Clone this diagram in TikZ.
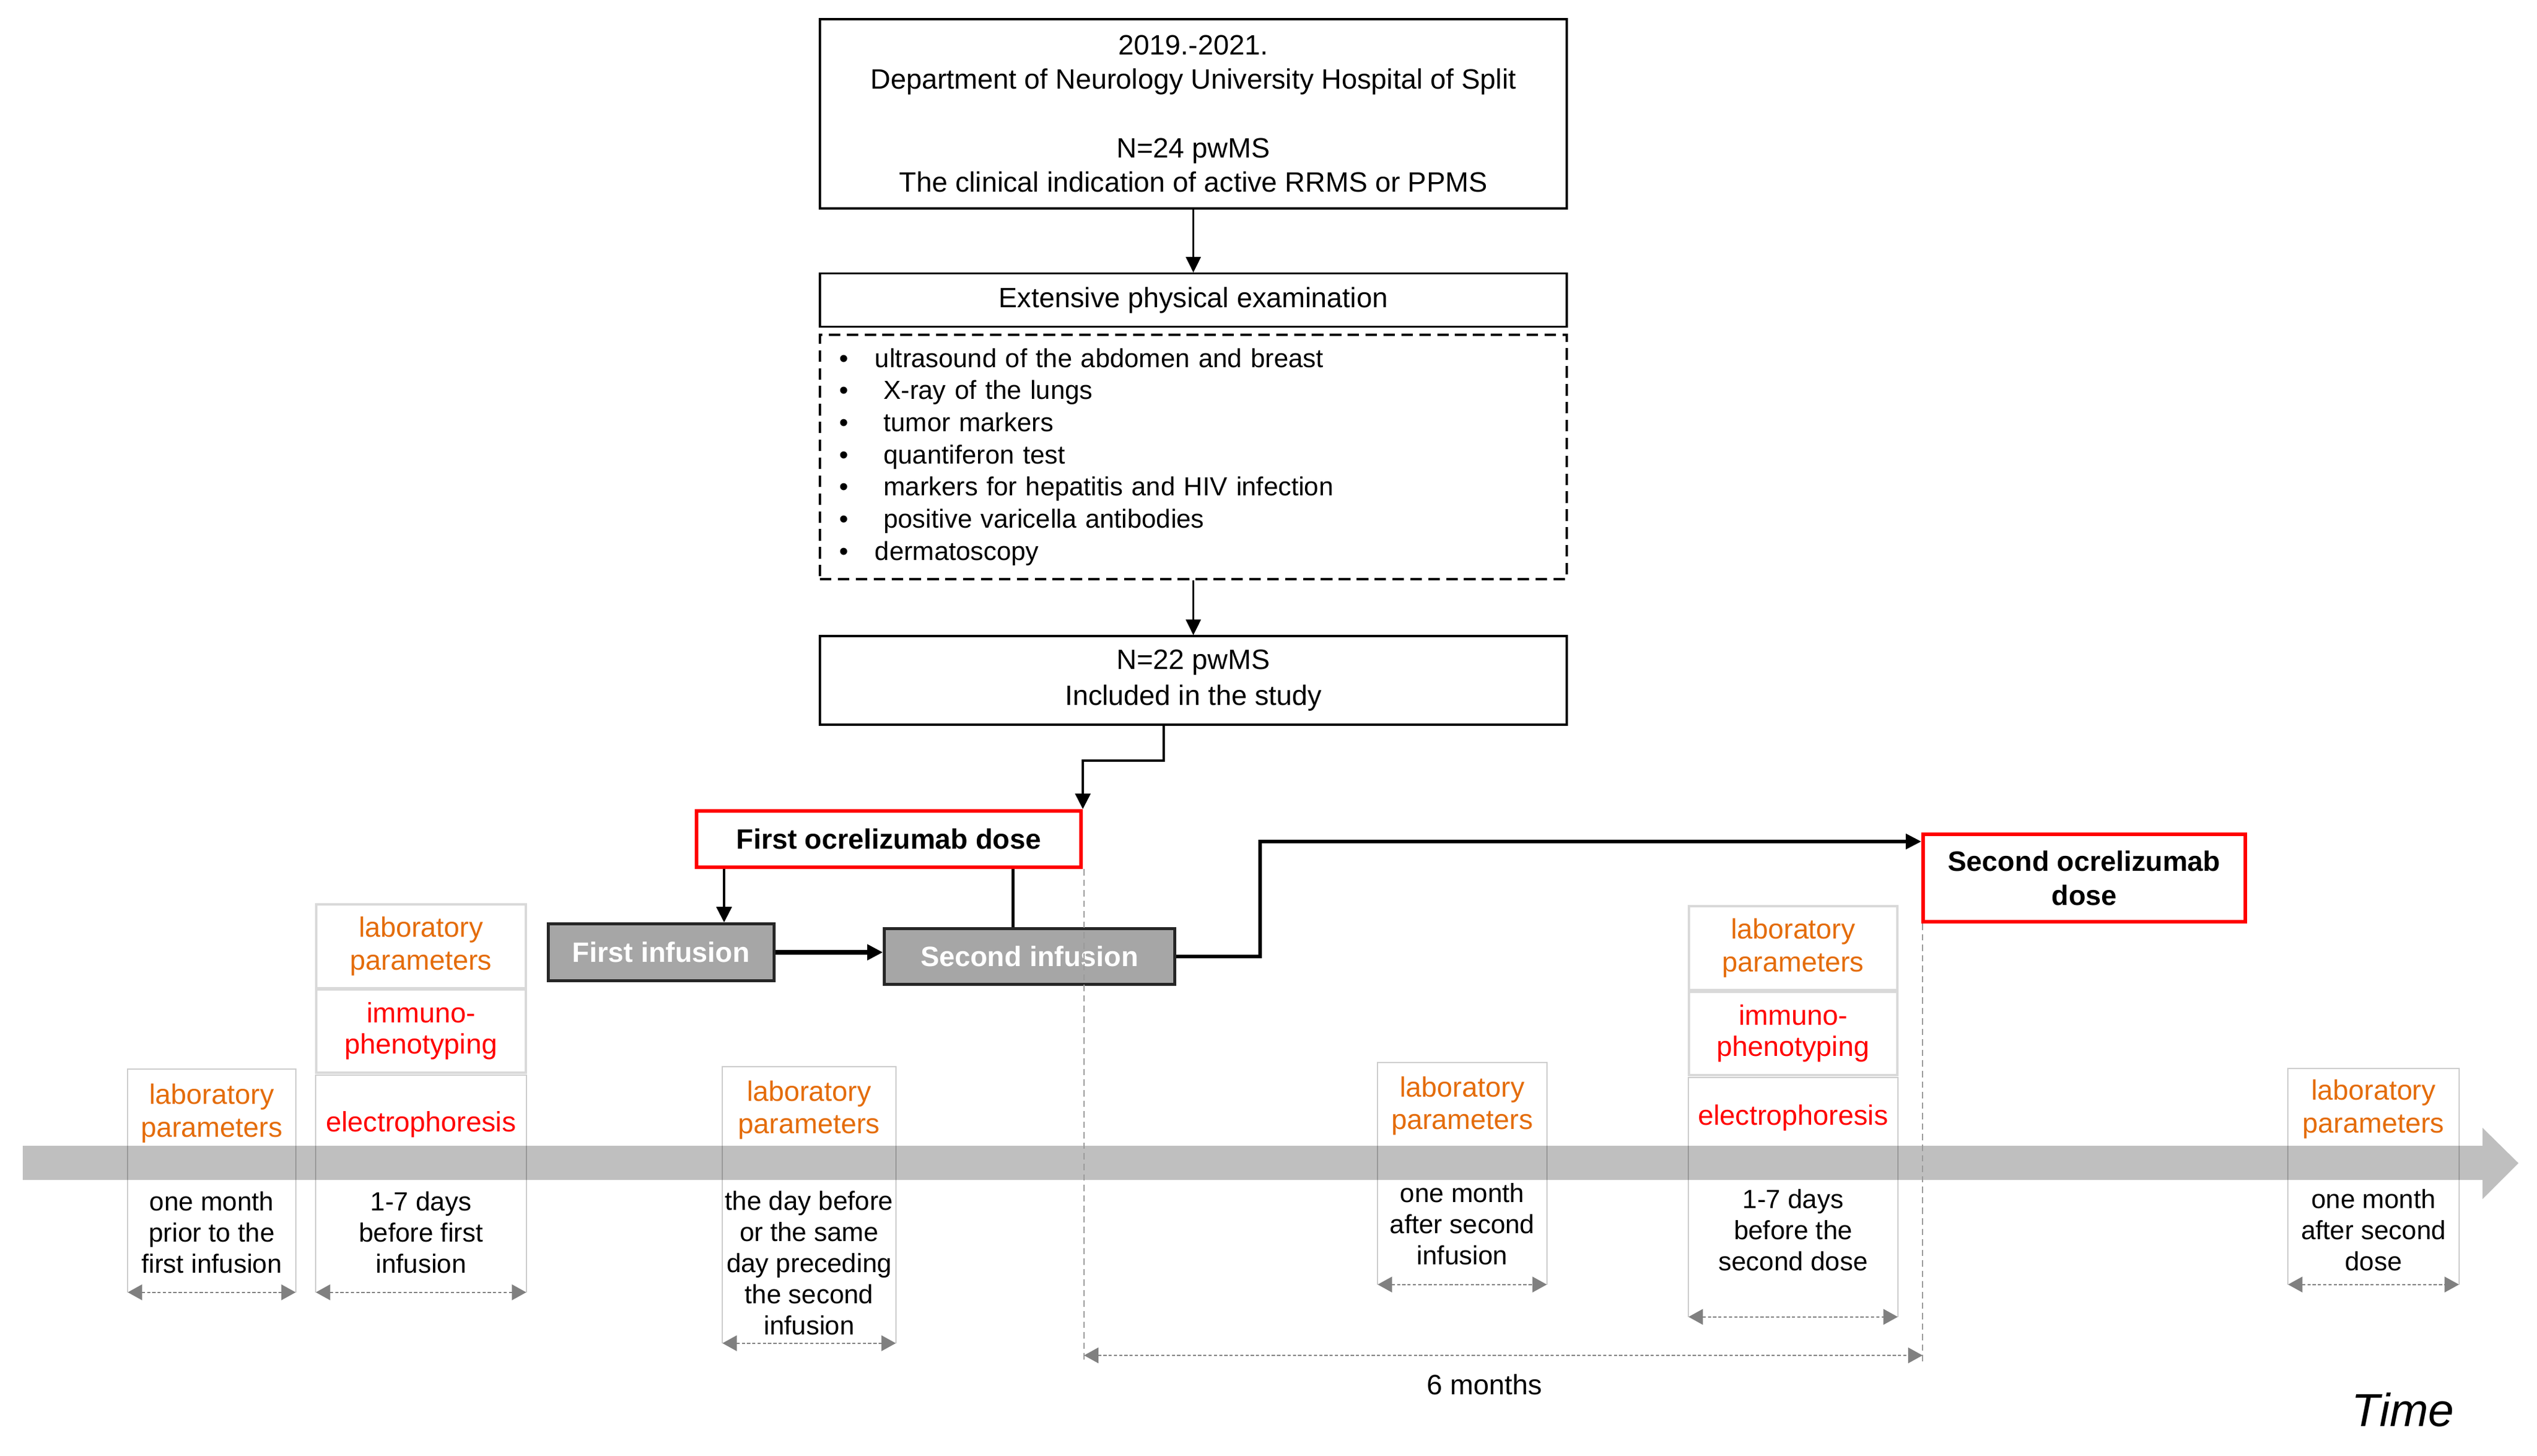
\documentclass[tikz,border=0pt]{standalone}
\usepackage{fontspec}
\setmainfont{Liberation Sans}
\usetikzlibrary{positioning}
\usetikzlibrary{arrows.meta}
\definecolor{orng}{RGB}{228,108,10}
\definecolor{boxgray}{RGB}{166,166,166}
\definecolor{celgray}{RGB}{217,217,217}
\definecolor{timegray}{RGB}{191,191,191}
\definecolor{dimgray}{RGB}{128,128,128}
\tikzset{
    mybox/.style = {rectangle, draw=black, line width=0.9pt, align=center, inner sep=0pt, font=\fontsize{13.3}{16.3}\selectfont},
    myboxd/.style = {mybox, dash pattern=on 5.5pt off 3pt},
    myboxr/.style = {mybox, draw=red, line width=1.7pt, font=\bfseries\fontsize{13.3}{16.3}\selectfont},
    myboxg/.style = {mybox, draw=black!85, fill=boxgray, line width=1.3pt, text=white, font=\bfseries\fontsize{13.3}{16.3}\selectfont},
    cell/.style = {rectangle, draw=celgray, line width=0.9pt, align=center, inner sep=0pt},
    frame/.style = {rectangle, inner sep=0pt},
    labtxt/.style = {align=center, inner sep=0pt, text=orng, font=\fontsize{13.3}{15.5}\selectfont},
    redtxt/.style = {align=center, inner sep=0pt, text=red, font=\fontsize{13.3}{15}\selectfont},
    daytxt/.style = {align=center, inner sep=0pt, font=\fontsize{12.5}{14.8}\selectfont},
    sideln/.style = {draw=black, draw opacity=0.2, line width=0.6pt},
    edgen/.style = {-{Triangle[length=2.6mm,width=2.5mm]}, line width=0.8pt},
    edget/.style = {-{Triangle[length=2.6mm,width=2.5mm]}, line width=1.4pt},
    edgel/.style = {line width=1.2pt},
    edgeg/.style = {{Triangle[length=2.4mm,width=2.6mm]}-{Triangle[length=2.4mm,width=2.6mm]}, dimgray, line width=0.6pt, dash pattern=on 1.5pt off 1pt}, % span
    edgegd/.style = {dimgray!80, line width=0.5pt, dash pattern=on 3pt off 2pt}, % guide
}
\newcommand{\itm}{\makebox[0.60cm][l]{\textbullet}}

\begin{document}
\begin{tikzpicture}[scale=1.00,transform shape,font=\fontsize{13.3}{16.3}\selectfont]
\useasboundingbox (0,0) rectangle (42.36,-24.31);
% time axis
\fill[timegray] (0.38,-19.13) -- (41.45,-19.13) -- (41.45,-18.83) -- (42.05,-19.42)
  -- (41.45,-20.02) -- (41.45,-19.70) -- (0.38,-19.70) -- cycle;
%
\node[mybox, minimum width=12.47cm, minimum height=3.16cm] at (19.925, -1.90) (top)
  {2019.-2021.\\Department of Neurology University Hospital of Split\\[16.3pt]N=24 pwMS\\The clinical indication of active RRMS or PPMS};
\node[mybox, minimum width=12.47cm, minimum height=0.89cm] at (19.925, -5.01) (exam) {Extensive physical examination};
\node[myboxd, align=left, text width=11.83cm, inner xsep=0.32cm, minimum height=4.08cm,
  font=\fontsize{12.4}{15.28}\selectfont] at (19.925, -7.63) (tests)
  {\itm ultrasound of the abdomen and breast\\
   \itm\ X-ray of the lungs\\
   \itm\ tumor markers\\
   \itm\ quantiferon test\\
   \itm\ markers for hepatitis and HIV infection\\
   \itm\ positive varicella antibodies\\
   \itm dermatoscopy};
\node[mybox, minimum width=12.47cm, minimum height=1.48cm, font=\fontsize{13.3}{17}\selectfont] at (19.925, -11.36) (incl)
  {N=22 pwMS\\Included in the study};
%
\node[myboxr, minimum width=6.42cm, minimum height=0.94cm] at (14.84, -14.01) (dose1) {First ocrelizumab dose};
\node[myboxr, minimum width=5.38cm, minimum height=1.46cm] at (34.80, -14.66) (dose2) {Second ocrelizumab\\dose};
\node[myboxg, minimum width=3.77cm, minimum height=0.95cm] at (11.04, -15.90) (inf1) {First infusion};
\node[myboxg, minimum width=4.85cm, minimum height=0.93cm] at (17.19, -15.97) (inf2) {Second infusion};
%
\coordinate (k1) at (19.43, -12.70);
\coordinate (k2) at (21.04, -14.05);
\draw[edgen] (top) -- (exam);
\draw[edgen] (tests) -- (incl);
\draw[edget] (incl.south -| k1) -- (k1) -| (dose1.north east);
\draw[edget] ([xshift=1.05cm]inf1.north |- dose1.south) -- ([xshift=1.05cm]inf1.north);
\draw[edgel] ([xshift=-0.275cm]inf2.north |- dose1.south) -- ([xshift=-0.275cm]inf2.north);
\draw[edget, line width=2pt] (inf1.east) -- (inf1.east -| inf2.west);
\draw[edget, line width=1.6pt] (inf2.east) -| (k2) -- (k2 -| dose2.west);
%
\node[frame, minimum width=2.79cm, minimum height=3.71cm] at (3.535, -19.715) (c1) {};
\node[cell, text=orng, font=\fontsize{13.3}{15.5}\selectfont, minimum width=3.50cm, minimum height=1.40cm] at (7.03, -15.80) (c2a) {laboratory\\parameters};
\node[cell, text=red, font=\fontsize{13.3}{15}\selectfont, minimum width=3.50cm, minimum height=1.39cm] at (7.03, -17.215) (c2b) {immuno-\\phenotyping};
\node[frame, minimum width=3.50cm, minimum height=3.61cm] at (7.03, -19.765) (c2c) {};
\node[frame, minimum width=2.88cm, minimum height=4.60cm] at (13.51, -20.12) (c3) {};
\node[frame, minimum width=2.81cm, minimum height=3.69cm] at (24.415, -19.595) (c4) {};
\node[cell, text=orng, font=\fontsize{13.3}{15.5}\selectfont, minimum width=3.48cm, minimum height=1.40cm] at (29.94, -15.83) (c5a) {laboratory\\parameters};
\node[cell, text=red, font=\fontsize{13.3}{15}\selectfont, minimum width=3.48cm, minimum height=1.39cm] at (29.94, -17.255) (c5b) {immuno-\\phenotyping};
\node[frame, minimum width=3.48cm, minimum height=3.98cm] at (29.94, -19.99) (c5c) {};
\node[frame, minimum width=2.84cm, minimum height=3.59cm] at (39.63, -19.645) (c6) {};
%
\node[labtxt] at (3.535, -18.59) (l1) {laboratory\\parameters};
\node[daytxt] at (3.535, -20.575) (d1) {one month\\prior to the\\first infusion};
\node[redtxt] at (7.03, -18.77) (e2) {electrophoresis};
\node[daytxt] at (7.03, -20.575) (d2) {1-7 days\\before first\\infusion};
\node[labtxt] at (13.51, -18.535) (l3) {laboratory\\parameters};
\node[daytxt] at (13.51, -21.085) (d3) {the day before\\or the same\\day preceding\\the second\\infusion};
\node[labtxt] at (24.415, -18.465) (l4) {laboratory\\parameters};
\node[daytxt] at (24.415, -20.44) (d4) {one month\\after second\\infusion};
\node[redtxt] at (29.94, -18.66) (e5) {electrophoresis};
\node[daytxt] at (29.94, -20.54) (d5) {1-7 days\\before the\\second dose};
\node[labtxt] at (39.63, -18.52) (l6) {laboratory\\parameters};
\node[daytxt] at (39.63, -20.54) (d6) {one month\\after second\\dose};
%
\draw[sideln] (c1.south west) -- (c1.north west) -- (c1.north east) -- (c1.south east);
\draw[sideln] (c2c.south west) -- (c2c.north west) -- (c2c.north east) -- (c2c.south east);
\draw[sideln] (c3.south west) -- (c3.north west) -- (c3.north east) -- (c3.south east);
\draw[sideln] (c4.south west) -- (c4.north west) -- (c4.north east) -- (c4.south east);
\draw[sideln] (c5c.south west) -- (c5c.north west) -- (c5c.north east) -- (c5c.south east);
\draw[sideln] (c6.south west) -- (c6.north west) -- (c6.north east) -- (c6.south east);
\draw[edgeg] (c1.south west) -- (c1.south east);
\draw[edgeg] (c2c.south west) -- (c2c.south east);
\draw[edgeg] (c3.south west) -- (c3.south east);
\draw[edgeg] (c4.south west) -- (c4.south east);
\draw[edgeg] (c5c.south west) -- (c5c.south east);
\draw[edgeg] (c6.south west) -- (c6.south east);
%
\coordinate (g1) at (18.10, -22.63);
\coordinate (g2) at (32.10, -22.63);
\draw[edgegd] (g1 |- dose1.south) -- ([yshift=-0.13cm]g1);
\draw[edgegd] (g2 |- dose2.south) -- ([yshift=-0.13cm]g2);
\draw[edgeg] (g1) -- (g2);
\node at (24.79, -23.12) (six) {6 months};
\node[font=\itshape\fontsize{22}{26}\selectfont] at (40.12, -23.54) (time) {Time};
\end{tikzpicture}
\end{document}
